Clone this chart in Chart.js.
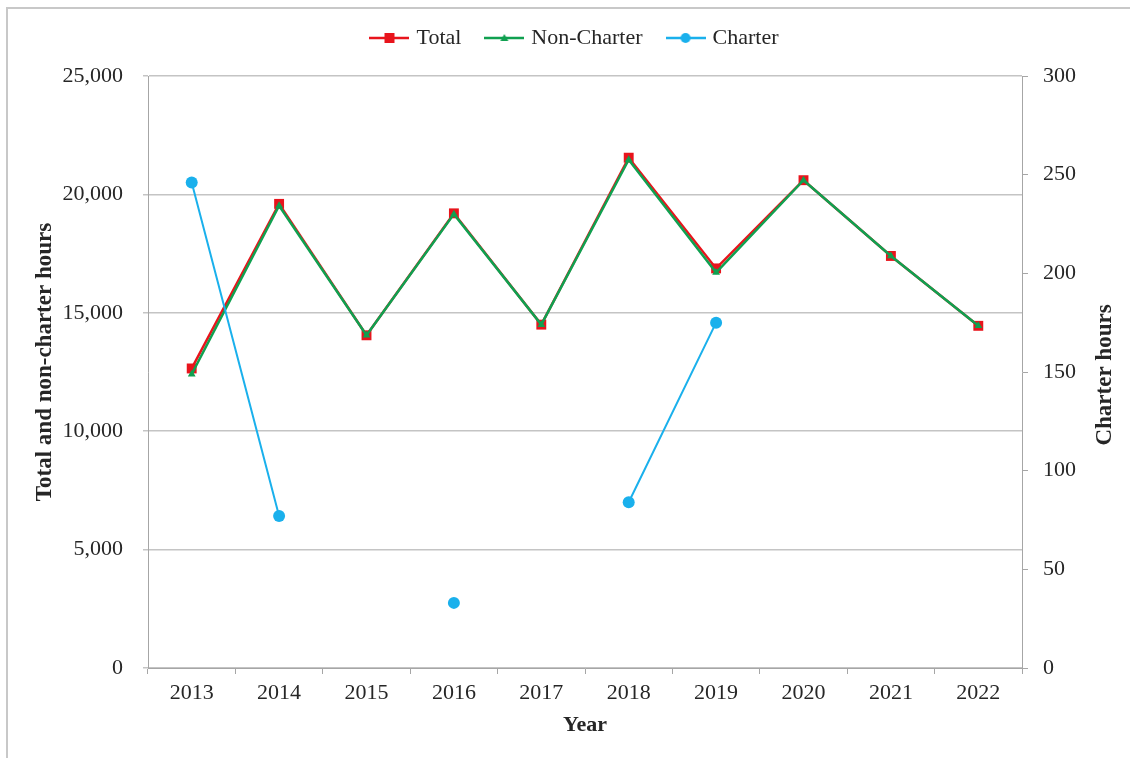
<!DOCTYPE html>
<html>
<head>
<meta charset="utf-8">
<script src="https://cdn.jsdelivr.net/npm/chart.js"></script>
<style>
  body { margin: 0; background: #fff; }
  #wrap { width: 1130px; height: 758px; }
</style>
</head>
<body>
<div id="wrap"><canvas id="mycanvas" width="1130" height="758"></canvas></div>
<script>
var years = ['2013', '2014', '2015', '2016', '2017', '2018', '2019', '2020', '2021', '2022'];
var total = [12650, 19600, 14050, 19200, 14500, 21550, 16875, 20600, 17400, 14450];
var nonCharter = [12404, 19523, 14050, 19167, 14500, 21466, 16700, 20600, 17400, 14450];
var charter = [246, 77, null, 33, null, 84, 175, null, null, null];
var leftTicks = [0, 5000, 10000, 15000, 20000, 25000];
var rightTicks = [0, 50, 100, 150, 200, 250, 300];
var leftTitle = 'Total and non-charter hours';
var rightTitle = 'Charter hours';

var serif = '"Liberation Serif", "Times New Roman", serif';
var txt = '#262626';
var gridCol = '#c4c4c4';

// little line+marker pictures for the legend
function legendIcon(color, shape) {
  var c = document.createElement('canvas');
  c.width = 40; c.height = 14;
  var g = c.getContext('2d');
  g.strokeStyle = color; g.lineWidth = 2.5;
  g.beginPath(); g.moveTo(0, 7); g.lineTo(40, 7); g.stroke();
  g.fillStyle = color;
  g.beginPath();
  if (shape == 'rect') g.rect(15, 2, 10, 10);
  else if (shape == 'triangle') { g.moveTo(20, 3); g.lineTo(24, 10); g.lineTo(16, 10); g.closePath(); }
  else g.arc(20, 7, 5, 0, Math.PI * 2);
  g.fill();
  return c;
}
var icons = [legendIcon('#e8141c', 'rect'), legendIcon('#10a050', 'triangle'), legendIcon('#1ab0ec', 'circle')];

var frame = {
  id: 'frame',
  beforeInit: function(chart) {
    var fit = chart.legend.fit;
    chart.legend.fit = function() {
      fit.call(chart.legend);
      this.height = 76;
    };
  },
  beforeDraw: function(chart) {
    var ctx = chart.ctx;
    ctx.save();
    ctx.fillStyle = '#fff';
    ctx.fillRect(0, 0, chart.width, chart.height);
    ctx.strokeStyle = '#c8c8c8';
    ctx.lineWidth = 2;
    ctx.beginPath();
    ctx.moveTo(7, chart.height); ctx.lineTo(7, 8); ctx.lineTo(chart.width, 8);
    ctx.stroke();
    ctx.restore();
  },
  // both y titles read bottom to top, as in the original
  afterDraw: function(chart) {
    var ctx = chart.ctx;
    ctx.save();
    ctx.fillStyle = txt;
    ctx.font = 'bold 23px ' + serif;
    ctx.textAlign = 'center';
    ctx.textBaseline = 'middle';
    ctx.translate(45, 362);
    ctx.rotate(-Math.PI / 2);
    ctx.fillText(leftTitle, 0, 0);
    ctx.restore();
    ctx.save();
    ctx.fillStyle = txt;
    ctx.font = 'bold 23px ' + serif;
    ctx.textAlign = 'center';
    ctx.textBaseline = 'middle';
    ctx.translate(1105, 375);
    ctx.rotate(-Math.PI / 2);
    ctx.fillText(rightTitle, 0, 0);
    ctx.restore();
  }
};

var ctx = document.getElementById('mycanvas');
var myChart = new Chart(ctx, {
  type: 'line',
  data: {
    labels: years,
    datasets: [{
      label: 'Total',
      data: total,
      yAxisID: 'y',
      borderColor: '#e8141c',
      backgroundColor: '#e8141c',
      borderWidth: 2.5,
      pointStyle: 'rect',
      pointRadius: 7,
      pointBorderWidth: 0,
      order: 2
    }, {
      label: 'Non-Charter',
      data: nonCharter,
      yAxisID: 'y',
      borderColor: '#10a050',
      backgroundColor: '#10a050',
      borderWidth: 2.5,
      pointStyle: 'triangle',
      pointRadius: 4.5,
      pointBorderWidth: 0,
      order: 1
    }, {
      label: 'Charter',
      data: charter,
      yAxisID: 'y1',
      borderColor: '#1ab0ec',
      backgroundColor: '#1ab0ec',
      borderWidth: 2,
      pointStyle: 'circle',
      pointRadius: 6,
      pointBorderWidth: 0,
      spanGaps: false,
      order: 0
    }]
  },
  options: {
    responsive: false,
    animation: false,
    layout: { padding: { left: 22 } },
    plugins: {
      tooltip: { enabled: false },
      legend: {
        position: 'top',
        labels: {
          usePointStyle: true,
          pointStyleWidth: 32,
          padding: 27,
          color: txt,
          font: { family: serif, size: 22 },
          generateLabels: function(chart) {
            return chart.data.datasets.map(function(ds, i) {
              return {
                text: ds.label,
                pointStyle: icons[i],
                fillStyle: ds.borderColor,
                strokeStyle: ds.borderColor,
                lineWidth: 0,
                hidden: false,
                datasetIndex: i,
                fontColor: txt
              };
            });
          }
        }
      }
    },
    scales: {
      x: {
        offset: true,
        grid: { offset: true, drawOnChartArea: false, color: '#a6a6a6', tickLength: 6 },
        border: { color: '#a6a6a6' },
        ticks: { color: txt, padding: 6, maxRotation: 0, font: { family: serif, size: 22 } },
        title: { display: true, text: 'Year', color: txt, padding: { top: 0, bottom: 19 }, font: { family: serif, size: 22, weight: 'bold' } },
        afterFit: function(s) { s.height = 90; }
      },
      y: {
        position: 'left',
        min: 0, max: 25000,
        afterBuildTicks: function(s) { s.ticks = leftTicks.map(function(v) { return { value: v }; }); },
        grid: { color: gridCol, lineWidth: 1.5, tickLength: 5 },
        border: { color: '#a6a6a6' },
        ticks: {
          color: txt, padding: 20,
          font: { family: serif, size: 22 },
          callback: function(v) { return v.toLocaleString('en-US'); }
        },
        afterFit: function(s) { s.width = 126; }
      },
      y1: {
        position: 'right',
        min: 0, max: 300,
        afterBuildTicks: function(s) { s.ticks = rightTicks.map(function(v) { return { value: v }; }); },
        grid: { drawOnChartArea: false, color: '#a6a6a6', tickLength: 6 },
        border: { color: '#a6a6a6' },
        ticks: { color: txt, padding: 15, font: { family: serif, size: 22 } },
        afterFit: function(s) { s.width = 108; }
      }
    }
  },
  plugins: [frame]
});
</script>
</body>
</html>
